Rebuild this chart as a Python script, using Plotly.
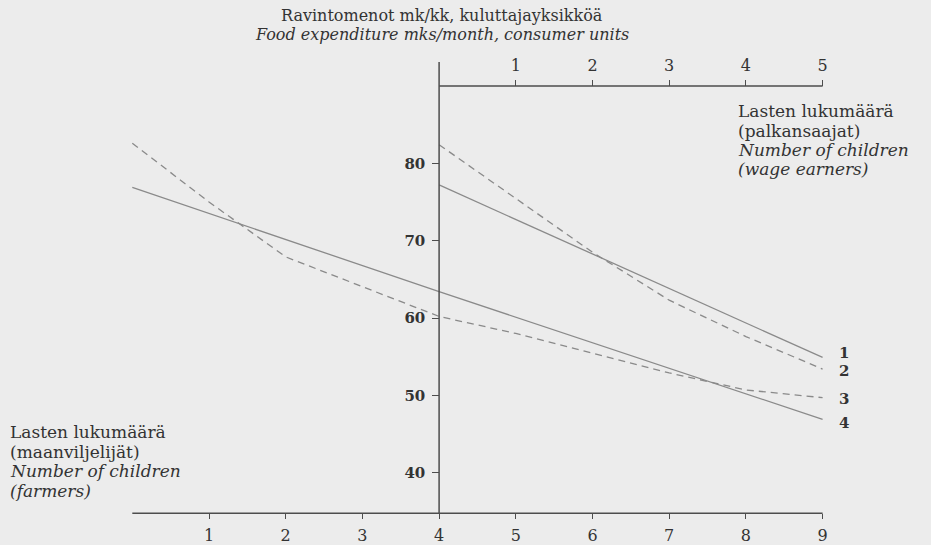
import plotly.graph_objects as go

# ---- data ----
farm_children_dashed = [0, 1, 2, 3, 4, 5, 6, 7, 8, 9]
farm_dashed = [82.6, 75.0, 67.9, 64.0, 60.2, 58.0, 55.4, 52.9, 50.7, 49.7]   # line 3
farm_children_solid = [0, 4, 9]
farm_solid = [76.9, 63.4, 46.9]                                              # line 4

wage_children_solid = [0, 5]
wage_solid = [77.2, 54.9]                                                    # line 1
wage_children_dashed = [0, 1, 2, 3, 4, 5]
wage_dashed = [82.4, 75.4, 68.5, 62.3, 57.6, 53.4]                           # line 2

farm_ticks = [1, 2, 3, 4, 5, 6, 7, 8, 9]
wage_ticks = [1, 2, 3, 4, 5]
y_ticks = [40, 50, 60, 70, 80]

# ---- style ----
W, H = 931, 545
FONT = "DejaVu Serif"
TXT = "#333333"
AX = "#4d4d4d"
LINE = "#8a8a8a"
BG = "#ececec"

# pixel calibration -> axis ranges (plot area = whole figure)
x0_px, unit_px = 132.3, 76.7
y80_px, yunit_px = 163.3, 7.735
xr = [(0 - x0_px) / unit_px, (W - x0_px) / unit_px]
yr = [80 - (H - y80_px) / yunit_px, 80 + y80_px / yunit_px]
wage_offset = 4  # wage-earner axis zero sits at farmer value 4

fig = go.Figure()
fig.add_trace(go.Scatter(x=farm_children_dashed, y=farm_dashed, mode="lines",
                         line=dict(color=LINE, width=1.3, dash="7px,5px"), xaxis="x", yaxis="y"))
fig.add_trace(go.Scatter(x=farm_children_solid, y=farm_solid, mode="lines",
                         line=dict(color=LINE, width=1.3), xaxis="x", yaxis="y"))
fig.add_trace(go.Scatter(x=wage_children_solid, y=wage_solid, mode="lines",
                         line=dict(color=LINE, width=1.3), xaxis="x2", yaxis="y"))
fig.add_trace(go.Scatter(x=wage_children_dashed, y=wage_dashed, mode="lines",
                         line=dict(color=LINE, width=1.3, dash="7px,5px"), xaxis="x2", yaxis="y"))

bottom_y = yr[0] + (H - 513.3) / yunit_px
top_y = 90
vert_top = 93.1

fig.add_shape(type="line", xref="x", yref="y", x0=0, x1=9, y0=bottom_y, y1=bottom_y,
              line=dict(color=AX, width=1.5))
fig.add_shape(type="line", xref="x", yref="y", x0=wage_offset, x1=9, y0=top_y, y1=top_y,
              line=dict(color=AX, width=1.5))
fig.add_shape(type="line", xref="x", yref="y", x0=wage_offset, x1=wage_offset, y0=bottom_y, y1=vert_top,
              line=dict(color=AX, width=1.5))

tickfont = dict(family=FONT, size=16, color=TXT)
fig.update_layout(
    width=W, height=H,
    margin=dict(l=0, r=0, t=0, b=0),
    paper_bgcolor=BG, plot_bgcolor=BG,
    showlegend=False,
    xaxis=dict(range=xr, anchor="free", position=(H - 513.3) / H, tickvals=farm_ticks,
               ticks="outside", ticklen=5, tickwidth=1.3, tickcolor=AX, showgrid=False,
               zeroline=False, showline=False, tickfont=tickfont, automargin=False,
               ticklabelstandoff=2),
    xaxis2=dict(range=[xr[0] - wage_offset, xr[1] - wage_offset], overlaying="x", side="top",
                anchor="free", position=(H - 86) / H, tickvals=wage_ticks,
                ticks="outside", ticklen=6, tickwidth=1.3, tickcolor=AX, showgrid=False,
                zeroline=False, showline=False, tickfont=tickfont, automargin=False,
                ticklabelstandoff=3),
    yaxis=dict(range=yr, anchor="free", position=439.3 / W, tickvals=y_ticks,
               ticks="outside", ticklen=7, tickwidth=1.3, tickcolor=AX, showgrid=False,
               zeroline=False, showline=False,
               tickfont=dict(family=FONT, size=15, color=TXT, weight="bold"),
               automargin=False, ticklabelstandoff=4),
)

def ann(text, xpx, ypx, size=15, xanchor="left", weight="normal"):
    fig.add_annotation(text=text, xref="paper", yref="paper", x=xpx / W, y=1 - ypx / H,
                       xanchor=xanchor, yanchor="middle", showarrow=False,
                       font=dict(family=FONT, size=size, color=TXT, weight=weight))

ann("Ravintomenot mk/kk, kuluttajayksikköä", 442, 15, size=16, xanchor="center")
ann("<i>Food expenditure mks/month, consumer units</i>", 442, 34, size=16, xanchor="center")

right_lines = ["Lasten lukumäärä", "(palkansaajat)", "<i>Number of children</i>", "<i>(wage earners)</i>"]
for i, t in enumerate(right_lines):
    ann(t, 736, 111 + i * 19.5, size=17)
left_lines = ["Lasten lukumäärä", "(maanviljelijät)", "<i>Number of children</i>", "<i>(farmers)</i>"]
for i, t in enumerate(left_lines):
    ann(t, 8, 432 + i * 19.5, size=17)

line_labels = ["1", "2", "3", "4"]
label_y_px = [352.5, 370.5, 399, 423.3]
for t, ypx in zip(line_labels, label_y_px):
    ann(t, 843.5, ypx, size=15, xanchor="center", weight="bold")

fig.write_html("out.html", config={"responsive": False, "displayModeBar": False},
               post_script="document.body.style.margin='0';document.body.style.overflow='hidden';")
